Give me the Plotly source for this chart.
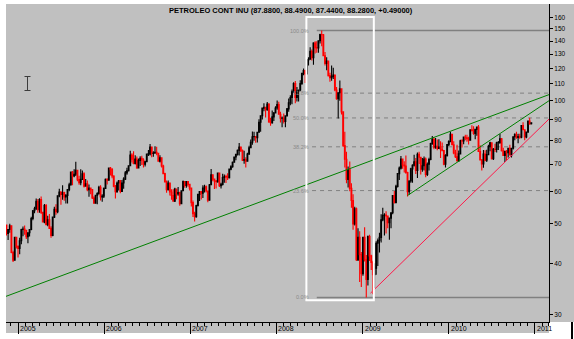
import numpy as np
import pandas as pd
import plotly.graph_objects as go

# ---------------------------------------------------------------------------
# Weekly bars (week ending Friday), crude oil continuous contract
# ---------------------------------------------------------------------------
first_week = "2004-11-12"

open_ = [
    # 2004
    49.6, 47.3, 48.4, 49.4, 42.5, 40.7, 46.3, 44.0,
    # 2005
    43.5, 45.4, 48.4, 48.5, 48.2, 46.5, 47.5, 48.4, 51.5, 53.8, 54.4, 56.7, 54.1,
    57.3, 53.3, 50.5, 55.4, 49.7, 51.1, 48.7, 46.8, 51.9, 54.2, 53.5, 58.5, 59.8,
    59.0, 59.6, 58.1, 58.6, 60.6, 62.3, 66.9, 65.4, 66.1, 67.6, 64.1, 63.0, 64.2,
    66.2, 61.8, 62.6, 60.6, 61.1, 60.6, 57.8, 56.1, 58.7, 59.3, 61.4, 58.1, 58.4,
    # 2006
    61.0, 64.2, 63.9, 68.4, 67.8, 65.4, 61.8, 59.9, 62.9, 63.7, 60.0, 62.9, 64.3,
    66.6, 67.4, 69.3, 73.6, 71.9, 70.2, 72.0, 68.5, 71.4, 72.3, 71.6, 69.9, 70.9,
    74.0, 74.1, 77.0, 74.3, 74.5, 74.8, 74.4, 71.1, 72.5, 69.2, 66.3, 63.3, 60.6,
    62.9, 59.8, 58.6, 56.8, 60.8, 59.1, 59.6, 56.0, 60.2, 63.4, 62.0, 63.4, 62.4,
    # 2007
    61.1, 56.3, 52.9, 52.0, 55.4, 59.0, 59.9, 59.4, 61.1, 61.6, 60.1, 57.1, 62.3,
    65.9, 64.3, 63.6, 63.4, 66.5, 61.9, 62.4, 64.9, 65.2, 65.1, 64.8, 68.0, 68.9,
    70.7, 72.8, 73.9, 75.6, 77.0, 75.5, 71.5, 71.8, 71.1, 74.0, 76.7, 79.1, 81.6,
    81.7, 81.2, 83.7, 88.6, 91.9, 95.9, 96.3, 95.1, 98.2, 88.7, 88.3, 91.3, 93.3,
    # 2008
    96.0, 97.9, 92.7, 90.6, 90.7, 89.0, 91.8, 95.5, 98.8, 101.8, 105.2, 110.2, 101.8,
    105.6, 106.2, 110.1, 116.7, 118.5, 116.3, 125.9, 126.3, 132.2, 127.4, 138.5, 134.9, 134.6,
    140.2, 145.3, 145.1, 128.9, 123.3, 125.1, 115.2, 113.8, 114.6, 115.5, 106.2, 101.2, 104.6,
    106.9, 93.9, 77.7, 71.9, 64.2, 67.8, 61.0, 57.0, 49.9, 54.4, 40.8, 46.3, 42.0,
    # 2009
    37.7, 46.3, 40.8, 36.5, 46.5, 41.7, 40.2, 37.5, 38.9, 44.8, 45.5, 46.3, 51.1,
    52.4, 52.5, 52.2, 50.3, 51.6, 53.2, 58.6, 56.3, 61.7, 66.3, 68.4, 72.0, 69.6,
    69.2, 66.7, 59.9, 63.6, 68.1, 69.5, 70.9, 67.5, 73.9, 72.7, 68.0, 69.3, 72.0,
    66.0, 69.9, 71.8, 78.5, 80.5, 77.0, 77.4, 76.4, 77.0, 76.1, 75.5, 69.9, 73.4,
    # 2010
    78.1, 79.4, 82.8, 78.0, 74.5, 72.9, 71.2, 74.1, 79.8, 79.7, 81.5, 81.2, 80.7,
    80.0, 84.9, 84.6, 83.2, 85.1, 86.2, 75.1, 71.6, 70.0, 74.0, 71.5, 73.8, 77.2,
    78.9, 72.1, 76.1, 76.0, 78.9, 78.95, 80.7, 75.4, 73.5, 75.2, 74.6, 76.5, 73.7,
    76.5, 81.6, 82.7, 81.3, 81.7, 81.4, 86.9, 84.9, 81.5, 83.8, 89.2, 87.88,
]
high = [
    # 2004
    49.8, 48.5, 50.0, 49.5, 42.9, 46.3, 46.4, 44.2,
    # 2005
    46.2, 48.6, 49.2, 49.5, 48.3, 47.5, 48.4, 52.0, 54.0, 55.0, 57.6, 57.5, 57.7,
    58.3, 53.5, 55.9, 55.9, 52.3, 52.8, 49.3, 51.9, 55.0, 55.8, 58.6, 60.9, 60.0,
    62.1, 59.9, 59.1, 60.6, 63.0, 66.9, 67.3, 68.0, 70.9, 67.8, 65.5, 68.0, 67.5,
    66.8, 64.3, 63.8, 62.4, 61.2, 60.8, 58.4, 58.9, 59.7, 61.9, 62.1, 59.0, 61.3,
    # 2006
    64.5, 64.6, 68.4, 68.8, 68.4, 65.7, 62.2, 63.4, 64.0, 64.0, 64.0, 65.0, 67.3,
    68.5, 69.4, 75.4, 74.4, 75.2, 73.5, 73.0, 72.2, 73.1, 73.3, 72.3, 71.3, 74.0,
    75.8, 78.4, 77.0, 75.2, 77.4, 77.2, 74.5, 73.5, 72.6, 69.7, 66.6, 63.8, 63.8,
    63.0, 60.7, 60.7, 61.2, 60.9, 61.5, 59.9, 60.4, 63.8, 63.5, 63.6, 63.6, 62.5,
    # 2007
    61.3, 57.0, 53.5, 55.6, 59.0, 60.0, 60.1, 62.1, 62.3, 62.0, 60.1, 62.5, 68.1,
    66.0, 64.5, 64.0, 66.6, 66.6, 63.0, 66.3, 66.0, 65.9, 66.4, 68.0, 69.5, 71.0,
    72.8, 74.0, 76.0, 78.8, 77.0, 76.0, 75.4, 72.7, 74.6, 77.6, 80.4, 84.1, 84.0,
    82.0, 84.0, 90.1, 92.2, 96.2, 98.6, 96.7, 99.3, 98.6, 90.8, 94.7, 93.9, 97.0,
    # 2008
    100.1, 99.4, 94.0, 91.5, 93.0, 91.8, 96.0, 101.3, 103.1, 106.5, 111.0, 111.8, 108.0,
    106.5, 112.2, 117.0, 119.9, 119.0, 126.0, 127.8, 135.1, 133.4, 139.1, 139.9, 139.9, 140.4,
    145.9, 148.5, 145.7, 131.6, 127.8, 125.2, 117.0, 122.0, 120.4, 116.0, 108.0, 104.9, 112.0,
    107.0, 94.0, 83.9, 75.0, 69.0, 71.0, 62.8, 59.0, 55.0, 54.8, 48.7, 47.9, 42.6,
    # 2009
    46.3, 49.0, 41.9, 46.8, 47.0, 42.0, 40.6, 40.0, 45.3, 46.0, 47.5, 52.7, 54.7,
    53.0, 53.6, 52.4, 51.8, 53.3, 58.6, 60.1, 62.3, 66.4, 69.0, 73.2, 72.0, 71.1,
    73.4, 67.0, 63.9, 68.5, 69.9, 73.8, 72.4, 74.7, 75.0, 72.8, 72.4, 73.0, 72.6,
    70.6, 72.5, 78.9, 82.0, 81.3, 81.0, 80.4, 80.5, 79.6, 79.0, 75.5, 74.0, 78.1,
    # 2010
    80.0, 83.9, 83.0, 79.6, 75.9, 78.0, 75.5, 80.2, 80.5, 81.7, 82.5, 82.6, 81.6,
    85.2, 87.1, 86.6, 85.4, 86.5, 87.2, 77.8, 72.0, 75.7, 75.6, 75.9, 78.0, 79.4,
    79.0, 76.6, 78.5, 79.4, 79.7, 82.9, 81.0, 76.7, 75.2, 75.8, 76.6, 78.0, 76.6,
    81.7, 83.2, 84.0, 83.0, 83.0, 87.1, 88.6, 85.0, 84.0, 89.5, 90.8, 88.49,
]
low = [
    # 2004
    46.8, 45.6, 47.5, 42.3, 40.3, 40.6, 43.5, 41.3,
    # 2005
    42.1, 44.5, 46.6, 47.0, 45.9, 44.8, 46.5, 48.2, 51.0, 53.0, 54.0, 53.2, 53.2,
    52.8, 50.4, 50.1, 49.6, 49.3, 48.5, 46.2, 46.6, 51.6, 52.6, 53.0, 58.0, 55.6,
    57.2, 56.9, 56.0, 56.0, 60.0, 61.9, 62.1, 65.0, 65.4, 63.5, 62.3, 62.1, 64.0,
    61.3, 61.6, 60.0, 58.2, 59.0, 57.5, 56.0, 56.0, 55.8, 58.9, 57.0, 56.6, 57.8,
    # 2006
    60.8, 62.4, 63.7, 65.6, 64.6, 61.4, 57.6, 59.5, 60.3, 59.4, 59.8, 60.9, 64.0,
    65.9, 67.1, 69.1, 70.6, 69.9, 69.8, 68.2, 68.3, 69.2, 69.6, 68.6, 69.0, 70.8,
    73.2, 73.4, 72.7, 72.9, 74.2, 73.5, 70.9, 70.6, 68.6, 66.2, 63.3, 59.5, 60.3,
    58.6, 57.2, 56.6, 56.5, 57.4, 58.5, 55.3, 55.9, 60.0, 61.2, 61.2, 61.6, 60.3,
    # 2007
    55.1, 51.9, 50.6, 51.7, 55.1, 56.8, 57.3, 57.8, 59.6, 59.6, 56.4, 57.0, 62.1,
    63.5, 60.8, 61.0, 63.0, 61.5, 61.0, 62.0, 63.0, 62.9, 64.0, 64.5, 67.6, 68.5,
    70.5, 71.5, 73.4, 73.4, 74.9, 71.2, 70.1, 68.6, 71.0, 73.9, 76.6, 78.0, 79.8,
    78.9, 79.0, 83.5, 84.0, 89.9, 94.3, 91.0, 94.5, 88.3, 86.8, 87.8, 89.2, 93.1,
    # 2008
    95.0, 92.5, 88.5, 86.1, 88.0, 86.1, 91.5, 94.0, 97.5, 98.0, 104.5, 98.6, 99.6,
    99.6, 105.5, 109.5, 115.5, 110.5, 116.0, 122.0, 126.0, 125.5, 122.5, 130.5, 131.0, 131.0,
    138.0, 136.0, 128.5, 121.9, 118.7, 114.6, 111.3, 111.9, 113.0, 105.5, 100.5, 90.5, 100.0,
    92.5, 77.0, 68.6, 62.8, 61.3, 60.0, 54.7, 48.3, 49.5, 40.5, 40.5, 36.0, 35.0,
    # 2009
    37.3, 40.4, 33.0, 35.3, 40.5, 38.5, 33.6, 34.8, 37.5, 39.4, 42.5, 45.0, 50.7,
    46.8, 47.3, 48.7, 45.7, 48.7, 52.7, 56.0, 56.1, 61.3, 64.0, 67.9, 68.2, 66.7,
    66.3, 58.3, 58.9, 63.0, 63.0, 69.0, 66.2, 64.7, 70.0, 66.0, 67.0, 67.5, 65.0,
    65.4, 67.5, 71.5, 78.0, 76.1, 76.3, 75.6, 76.2, 72.4, 75.2, 69.5, 68.6, 73.0,
    # 2010
    77.5, 79.2, 77.9, 74.0, 72.4, 71.0, 70.9, 74.0, 76.8, 78.3, 80.0, 79.4, 78.1,
    79.8, 84.1, 82.5, 80.5, 82.1, 75.0, 71.4, 67.5, 68.5, 71.1, 70.8, 73.6, 75.2,
    71.8, 71.6, 74.9, 74.7, 75.8, 78.5, 75.1, 73.3, 70.8, 71.6, 72.6, 73.6, 72.6,
    76.0, 80.0, 80.7, 78.7, 80.7, 80.9, 84.7, 80.0, 80.9, 83.6, 87.3, 87.44,
]
close = [
    # 2004
    47.3, 48.4, 49.4, 42.5, 40.7, 46.3, 44.0, 43.5,
    # 2005
    45.4, 48.4, 48.5, 48.2, 46.5, 47.5, 48.4, 51.5, 53.8, 54.4, 56.7, 54.1, 57.3,
    53.3, 50.5, 55.4, 49.7, 51.1, 48.7, 46.8, 51.9, 54.2, 53.5, 58.5, 59.8, 59.0,
    59.6, 58.1, 58.6, 60.6, 62.3, 66.9, 65.4, 66.1, 67.6, 64.1, 63.0, 64.2, 66.2,
    61.8, 62.6, 60.6, 61.1, 60.6, 57.8, 56.1, 58.7, 59.3, 61.4, 58.1, 58.4, 61.0,
    # 2006
    64.2, 63.9, 68.4, 67.8, 65.4, 61.8, 59.9, 62.9, 63.7, 60.0, 62.9, 64.3, 66.6,
    67.4, 69.3, 73.6, 71.9, 70.2, 72.0, 68.5, 71.4, 72.3, 71.6, 69.9, 70.9, 74.0,
    74.1, 77.0, 74.3, 74.5, 74.8, 74.4, 71.1, 72.5, 69.2, 66.3, 63.3, 60.6, 62.9,
    59.8, 58.6, 56.8, 60.8, 59.1, 59.6, 56.0, 60.2, 63.4, 62.0, 63.4, 62.4, 61.1,
    # 2007
    56.3, 52.9, 52.0, 55.4, 59.0, 59.9, 59.4, 61.1, 61.6, 60.1, 57.1, 62.3, 65.9,
    64.3, 63.6, 63.4, 66.5, 61.9, 62.4, 64.9, 65.2, 65.1, 64.8, 68.0, 68.9, 70.7,
    72.8, 73.9, 75.6, 77.0, 75.5, 71.5, 71.8, 71.1, 74.0, 76.7, 79.1, 81.6, 81.7,
    81.2, 83.7, 88.6, 91.9, 95.9, 96.3, 95.1, 98.2, 88.7, 88.3, 91.3, 93.3, 96.0,
    # 2008
    97.9, 92.7, 90.6, 90.7, 89.0, 91.8, 95.5, 98.8, 101.8, 105.2, 110.2, 101.8, 105.6,
    106.2, 110.1, 116.7, 118.5, 116.3, 125.9, 126.3, 132.2, 127.4, 138.5, 134.9, 134.6, 140.2,
    145.3, 145.1, 128.9, 123.3, 125.1, 115.2, 113.8, 114.6, 115.5, 106.2, 101.2, 104.6, 106.9,
    93.9, 77.7, 71.9, 64.2, 67.8, 61.0, 57.0, 49.9, 54.4, 40.8, 46.3, 42.0, 37.7,
    # 2009
    46.3, 40.8, 36.5, 46.5, 41.7, 40.2, 37.5, 38.9, 44.8, 45.5, 46.3, 51.1, 52.4,
    52.5, 52.2, 50.3, 51.6, 53.2, 58.6, 56.3, 61.7, 66.3, 68.4, 72.0, 69.6, 69.2,
    66.7, 59.9, 63.6, 68.1, 69.5, 70.9, 67.5, 73.9, 72.7, 68.0, 69.3, 72.0, 66.0,
    69.9, 71.8, 78.5, 80.5, 77.0, 77.4, 76.4, 77.0, 76.1, 75.5, 69.9, 73.4, 78.1,
    # 2010
    79.4, 82.8, 78.0, 74.5, 72.9, 71.2, 74.1, 79.8, 79.7, 81.5, 81.2, 80.7, 80.0,
    84.9, 84.6, 83.2, 85.1, 86.2, 75.1, 71.6, 70.0, 74.0, 71.5, 73.8, 77.2, 78.9,
    72.1, 76.1, 76.0, 78.9, 78.95, 80.7, 75.4, 73.5, 75.2, 74.6, 76.5, 73.7, 76.5,
    81.6, 82.7, 81.3, 81.7, 81.4, 86.9, 84.9, 81.5, 83.8, 89.2, 87.79, 88.28,
]

instrument = "PETROLEO CONT INU"

# Axis extent and labelling
date_range = ["2004-11-10", "2011-03-02"]
price_range = [28.73, 172.5]
price_ticks = [30, 40, 50, 60, 70, 80, 90, 100, 110, 120, 130, 140, 150, 160]
year_ticks = ["2005-01-01", "2006-01-01", "2007-01-01", "2008-01-01",
              "2009-01-01", "2010-01-01", "2011-01-01"]
year_labels = ["2005", "2006", "2007", "2008", "2009", "2010", "2011"]

# Drawing tools
long_trend_x = ["2004-11-10", "2011-03-02"]
long_trend_y = [33.2, 103.5]
channel_x = ["2009-07-10", "2011-03-02"]
channel_y = [58.6, 100.0]
support_x = ["2009-02-03", "2011-03-02"]
support_y = [33.8, 90.2]

fib_ratios = [1.0, 0.618, 0.5, 0.382, 0.236, 0.0]
fib_labels = ["100.0%", "61.8%", "50.0%", "38.2%", "23.6%", "0.0%"]
fib_solid_start = "2008-06-20"
fib_dash_start = "2008-05-31"
box_x = ["2008-05-07", "2009-02-17"]
box_y = [32.5, 160.3]

# ---------------------------------------------------------------------------
n = len(close)
assert len(open_) == n and len(high) == n and len(low) == n
weeks = pd.date_range(first_week, periods=n, freq="W-FRI")

GRAY_BG = "#C0C0C0"
W, H = 574, 339
ML, MR, MT, MB = 6, 25, 4, 17
PW, PH = W - ML - MR, H - MT - MB


def paper_x(px):
    return (px - ML) / PW


def paper_y(py):
    return (H - MB - py) / PH


fig = go.Figure()

fig.add_trace(go.Candlestick(
    x=weeks, open=open_, high=high, low=low, close=close,
    increasing=dict(line=dict(color="black", width=1.1), fillcolor="black"),
    decreasing=dict(line=dict(color="#ff0000", width=1.1), fillcolor="#ff0000"),
    whiskerwidth=0, hoverinfo="skip", showlegend=False,
))

for xs, ys, col in [(long_trend_x, long_trend_y, "#008000"),
                    (channel_x, channel_y, "#008000"),
                    (support_x, support_y, "#ff1a4a")]:
    fig.add_trace(go.Scatter(
        x=xs, y=ys, mode="lines", line=dict(color=col, width=1),
        hoverinfo="skip", showlegend=False,
    ))

shapes = []
annotations = []

# Fibonacci retracement between the swing high and swing low
swing_hi = max(high)
swing_lo = min(low)
for r, lab in zip(fib_ratios, fib_labels):
    level = swing_lo + r * (swing_hi - swing_lo)
    solid = r in (0.0, 1.0)
    shapes.append(dict(
        type="line", xref="x", yref="y", layer="below",
        x0=fib_solid_start if solid else fib_dash_start, x1=date_range[1],
        y0=level, y1=level,
        line=dict(color="#808080", width=1.5 if solid else 1,
                  dash="solid" if solid else "4px,4px"),
    ))
    annotations.append(dict(
        x=fib_dash_start, y=np.log10(level), xref="x", yref="y",
        text=lab, showarrow=False, xanchor="right", yanchor="middle",
        xshift=-1, font=dict(family="Liberation Sans, Arial", size=5.5, color="#8a8a8a"),
    ))

# highlight box around the 2008 collapse
shapes.append(dict(
    type="rect", xref="x", yref="y", layer="above",
    x0=box_x[0], x1=box_x[1], y0=box_y[0], y1=box_y[1],
    line=dict(color="white", width=2), fillcolor="rgba(0,0,0,0)",
))

# grey panel behind the price scale and the date strip
shapes.append(dict(type="rect", xref="paper", yref="paper", layer="below",
                   x0=1, x1=paper_x(W), y0=0, y1=paper_y(MT),
                   line=dict(width=0), fillcolor=GRAY_BG))
shapes.append(dict(type="rect", xref="paper", yref="paper", layer="below",
                   x0=0, x1=1, y0=paper_y(333), y1=0,
                   line=dict(width=0), fillcolor=GRAY_BG))
shapes.append(dict(type="rect", xref="paper", yref="paper", layer="above",
                   x0=paper_x(571), x1=paper_x(573), y0=paper_y(H), y1=0,
                   line=dict(width=0), fillcolor="black"))

# text cursor glyph
cur = "#3c3c3c"
for x0, y0, x1, y1 in [(27.5, 76.5, 27.5, 90.5), (24.5, 76.5, 30.5, 76.5),
                       (24.5, 90.5, 30.5, 90.5)]:
    shapes.append(dict(type="line", xref="paper", yref="paper", layer="above",
                       x0=paper_x(x0), x1=paper_x(x1), y0=paper_y(y0), y1=paper_y(y1),
                       line=dict(color=cur, width=1)))

# year labels beside the long year ticks
for xv, lab in zip(year_ticks, year_labels):
    annotations.append(dict(
        x=xv, y=0, xref="x", yref="paper", text=lab, showarrow=False,
        xanchor="left", yanchor="top", xshift=0, yshift=-1,
        font=dict(family="Liberation Sans, Arial", size=7, color="black"),
    ))

prev_close = close[-2]
title = (f"{instrument} ({open_[-1]:.4f}, {high[-1]:.4f}, {low[-1]:.4f}, "
         f"{close[-1]:.4f}, {close[-1] - prev_close:+.5f})")
annotations.append(dict(
    x=paper_x(291), y=1, xref="paper", yref="paper", text=f"<b>{title}</b>",
    showarrow=False, xanchor="center", yanchor="top", yshift=0,
    font=dict(family="Liberation Sans, Arial", size=7.5, color="black"),
))

fig.update_layout(
    width=W, height=H, autosize=False,
    margin=dict(l=ML, r=MR, t=MT, b=MB, pad=0),
    paper_bgcolor="white", plot_bgcolor=GRAY_BG,
    shapes=shapes, annotations=annotations,
    showlegend=False, hovermode=False,
    xaxis=dict(
        type="date", range=date_range, rangeslider=dict(visible=False),
        showgrid=False, zeroline=False,
        showline=True, linecolor="black", linewidth=1,
        tickmode="array", tickvals=year_ticks, ticks="outside",
        ticklen=11, tickwidth=1, tickcolor="black", showticklabels=False,
        minor=dict(ticks="outside", ticklen=3, tickwidth=1, tickcolor="black",
                   dtick="M1", tick0="2005-01-01", showgrid=False),
    ),
    yaxis=dict(
        type="log", side="right",
        range=[np.log10(price_range[0]), np.log10(price_range[1])],
        showgrid=False, zeroline=False,
        showline=True, linecolor="black", linewidth=1,
        tickmode="array", tickvals=price_ticks,
        ticktext=[str(v) for v in price_ticks],
        ticks="outside", ticklen=3, tickwidth=1, tickcolor="black",
        tickfont=dict(family="Liberation Sans, Arial", size=6.5, color="black"),
    ),
)

fig.write_html("out.html")
